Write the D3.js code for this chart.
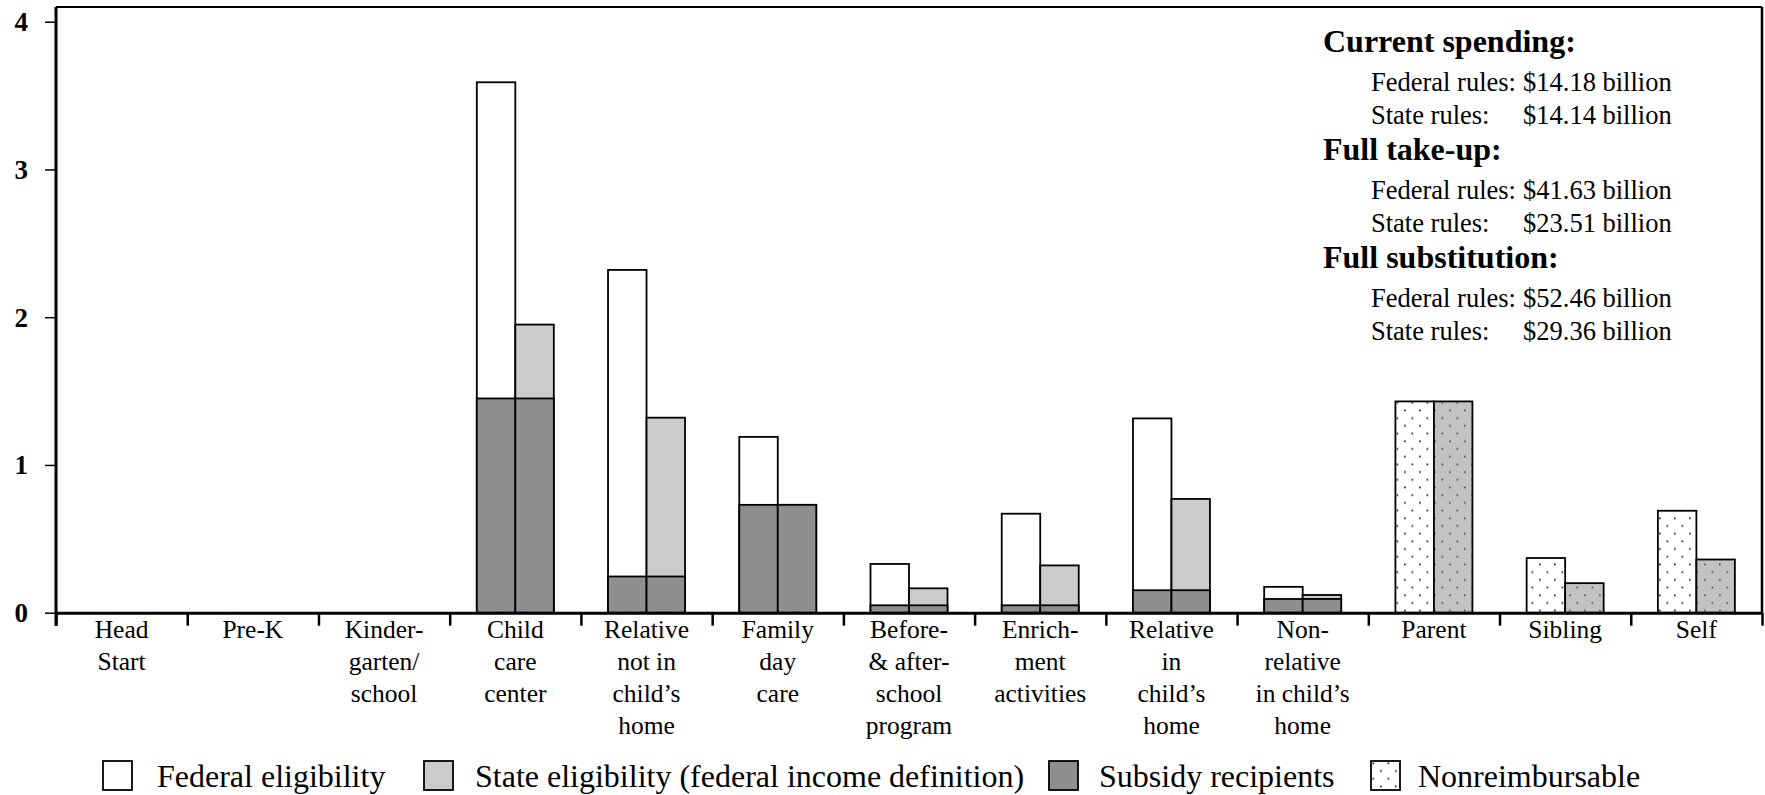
<!DOCTYPE html>
<html>
<head>
<meta charset="utf-8">
<script src="https://cdn.jsdelivr.net/npm/d3@7"></script>
<style>
  body { margin: 0; background: white; }
  text { font-family: "Liberation Serif", "Times New Roman", serif; fill: #000; }
</style>
</head>
<body>
<div id="chart"></div>
<script>
// categories, with the line breaks used under the axis
const categories = ["Head Start", "Pre-K", "Kindergarten/school", "Child care center",
  "Relative not in child's home", "Family day care", "Before- & after-school program",
  "Enrichment activities", "Relative in child's home", "Non-relative in child's home",
  "Parent", "Sibling", "Self"];
const categoryLines = [
  ["Head", "Start"], ["Pre-K"], ["Kinder-", "garten/", "school"], ["Child", "care", "center"],
  ["Relative", "not in", "child’s", "home"], ["Family", "day", "care"],
  ["Before-", "& after-", "school", "program"], ["Enrich-", "ment", "activities"],
  ["Relative", "in", "child’s", "home"], ["Non-", "relative", "in child’s", "home"],
  ["Parent"], ["Sibling"], ["Self"]];

// values (millions of children)
const federalEligibility = [0, 0, 0, 3.59, 2.32, 1.19, 0.33, 0.67, 1.315, 0.175, 0, 0, 0];
const stateEligibility   = [0, 0, 0, 1.95, 1.32, 0.73, 0.165, 0.32, 0.77, 0.12, 0, 0, 0];
const subsidyRecipients  = [0, 0, 0, 1.45, 0.245, 0.73, 0.05, 0.05, 0.152, 0.093, 0, 0, 0];
const nonreimbFederal    = [0, 0, 0, 0, 0, 0, 0, 0, 0, 0, 1.43, 0.37, 0.69];
const nonreimbState      = [0, 0, 0, 0, 0, 0, 0, 0, 0, 0, 1.43, 0.2, 0.36];

const yTicks = [0, 1, 2, 3, 4];

const legendItems = ["Federal eligibility", "State eligibility (federal income definition)",
  "Subsidy recipients", "Nonreimbursable"];

const summaryHeads = ["Current spending:", "Full take-up:", "Full substitution:"];
const summaryRules = ["Federal rules:", "State rules:"];
const summaryValues = [["$14.18 billion", "$14.14 billion"],
  ["$41.63 billion", "$23.51 billion"],
  ["$52.46 billion", "$29.36 billion"]];

const W = 1765, H = 795;
const LEFT = 56, RIGHT = 1762, TOP = 7, ZERO = 612.7, Y4 = 21.7;
const WHITE = "#ffffff", LIGHT = "#cbcbcb", DARK = "#8f8f8f", DOTGRAY = "#c2c2c2";

const svg = d3.select("#chart").append("svg")
  .attr("width", W).attr("height", H);

// dotted fills
const defs = svg.append("defs");
function dotPattern(id, bg, dot) {
  const p = defs.append("pattern").attr("id", id)
    .attr("patternUnits", "userSpaceOnUse").attr("width", 15).attr("height", 15.4);
  p.append("rect").attr("width", 15).attr("height", 15.4).attr("fill", bg);
  p.append("rect").attr("x", 1.5).attr("y", 1.5).attr("width", 1.7).attr("height", 1.7).attr("fill", dot);
  p.append("rect").attr("x", 9).attr("y", 9.2).attr("width", 1.7).attr("height", 1.7).attr("fill", dot);
}
dotPattern("dotsWhite", WHITE, "#222");
dotPattern("dotsGray", DOTGRAY, "#555");

const y = d3.scaleLinear().domain([0, 4]).range([ZERO, Y4]);
const xBand = d3.scaleBand().domain(categories).range([LEFT, RIGHT]).paddingInner(0).paddingOuter(0);
const xIdx = d3.scaleLinear().domain([0, categories.length]).range([LEFT, RIGHT]);
const barW = 38.5;
const cx = (c) => xBand(c) + xBand.bandwidth() / 2;

// frame: top and right
svg.append("line").attr("x1", LEFT).attr("x2", RIGHT).attr("y1", TOP).attr("y2", TOP)
  .attr("stroke", "#000").attr("stroke-width", 2);
svg.append("line").attr("x1", RIGHT).attr("x2", RIGHT).attr("y1", TOP).attr("y2", ZERO)
  .attr("stroke", "#000").attr("stroke-width", 2.5);

// bars
const rows = categories.map((c, i) => ({
  c, fed: federalEligibility[i], st: stateEligibility[i], sub: subsidyRecipients[i],
  nf: nonreimbFederal[i], ns: nonreimbState[i]
}));
const g = svg.append("g").attr("stroke", "#000").attr("stroke-width", 1.8);

function bars(data, xPos, val, fill) {
  g.append("g").selectAll("rect")
    .data(data.filter((d) => val(d) > 0))
    .join("rect")
    .attr("x", (d) => xPos(d))
    .attr("y", (d) => y(val(d)))
    .attr("width", barW)
    .attr("height", (d) => ZERO - y(val(d)))
    .attr("fill", fill);
}
bars(rows, (d) => cx(d.c) - barW, (d) => d.fed, WHITE);
bars(rows, (d) => cx(d.c), (d) => d.st, LIGHT);
bars(rows, (d) => cx(d.c) - barW, (d) => d.sub, DARK);
bars(rows, (d) => cx(d.c), (d) => d.sub, DARK);
bars(rows, (d) => cx(d.c) - barW, (d) => d.nf, "url(#dotsWhite)");
bars(rows, (d) => cx(d.c), (d) => d.ns, "url(#dotsGray)");

// x axis with boundary ticks
const xAxis = svg.append("g").attr("transform", `translate(0,${ZERO})`)
  .call(d3.axisBottom(xIdx).tickValues(d3.range(categories.length + 1))
    .tickFormat("").tickSizeInner(13).tickSizeOuter(0));
xAxis.select(".domain").attr("stroke-width", 3);
xAxis.selectAll(".tick line").attr("stroke-width", 2.5);

// category labels
const labels = svg.append("g").selectAll("text")
  .data(categories)
  .join("text")
  .attr("text-anchor", "middle")
  .attr("font-size", 25.5)
  .attr("x", (d) => cx(d))
  .attr("y", 638);
labels.selectAll("tspan")
  .data((d, i) => categoryLines[i])
  .join("tspan")
  .attr("x", function () { return this.parentNode.getAttribute("x"); })
  .attr("dy", (d, j) => (j === 0 ? 0 : 32))
  .text((d) => d);

// y axis
const yAxis = svg.append("g").attr("transform", `translate(${LEFT},0)`)
  .call(d3.axisLeft(y).tickValues(yTicks).tickFormat(d3.format("d"))
    .tickSizeInner(11).tickSizeOuter(0).tickPadding(17));
yAxis.select(".domain").attr("stroke-width", 3)
  .attr("d", `M0,${ZERO + 13}V${TOP}`);
yAxis.selectAll(".tick line").attr("stroke-width", 1.5);
yAxis.selectAll(".tick text")
  .attr("font-family", "Liberation Serif, serif")
  .attr("font-weight", "bold")
  .attr("font-size", 27)
  .attr("dy", "0.33em");

// summary block
const sum = svg.append("g");
summaryHeads.forEach((h, k) => {
  const base = 52 + k * 108;
  sum.append("text").attr("x", 1323).attr("y", base)
    .attr("font-weight", "bold").attr("font-size", 32).text(h);
  summaryRules.forEach((r, j) => {
    const yy = base + 38.5 + j * 33;
    sum.append("text").attr("x", 1371).attr("y", yy).attr("font-size", 26.5).text(r);
    sum.append("text").attr("x", 1523).attr("y", yy).attr("font-size", 26.5).text(summaryValues[k][j]);
  });
});

// legend
const legendX = [103, 424, 1049, 1371];
const legendFill = [WHITE, LIGHT, DARK, "url(#dotsWhite)"];
const leg = svg.append("g").selectAll("g")
  .data(legendItems)
  .join("g")
  .attr("transform", (d, i) => `translate(${legendX[i]},761)`);
leg.append("rect")
  .attr("width", 29).attr("height", 29)
  .attr("fill", (d, i) => legendFill[i])
  .attr("stroke", "#000").attr("stroke-width", 1.8);
leg.append("text")
  .attr("x", (d, i) => [54, 51, 50, 47][i])
  .attr("y", 26)
  .attr("font-size", 32)
  .text((d) => d);
</script>
</body>
</html>
